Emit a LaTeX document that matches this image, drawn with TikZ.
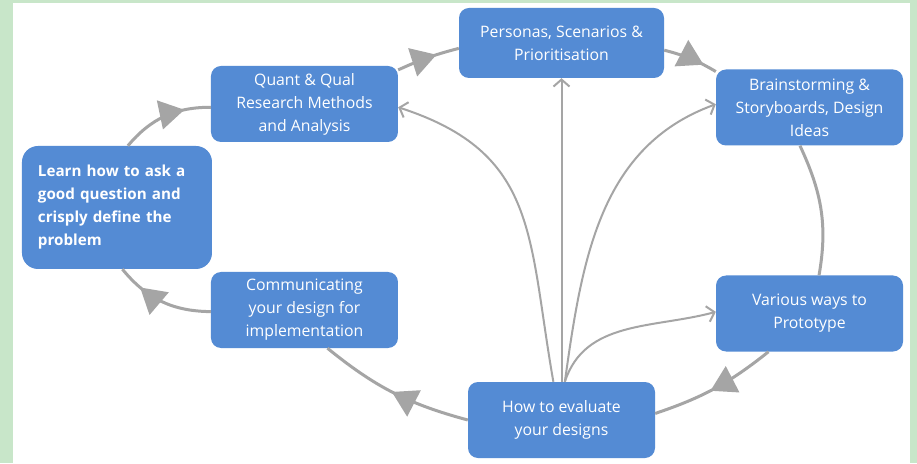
\documentclass[tikz,border=0pt]{standalone}
\usepackage{fontspec}
\setmainfont{Open Sans}
\usepackage{tikz}
\usetikzlibrary{arrows.meta}
\usetikzlibrary{decorations.markings}
\definecolor{boxblue}{RGB}{84,139,212}
\definecolor{linegray}{RGB}{165,165,165}
\definecolor{pagegreen}{RGB}{200,230,201}
\tikzstyle{process} = [rectangle, rounded corners=10pt, minimum width=187pt, minimum height=76pt, text centered, align=center, fill=boxblue, text=white, font=\fontsize{15.8}{23}\selectfont]
\tikzstyle{bigprocess} = [process, rounded corners=16pt, minimum width=190pt, minimum height=123pt, text width=158pt, inner xsep=16pt, align=left, font=\bfseries\fontsize{15.2}{23}\selectfont]
\tikzstyle{cycarrow} = [line width=3pt, draw=linegray, postaction=decorate, decoration={markings, mark=at position #1 with {\arrow[linegray]{Triangle[length=25pt,width=29pt]}}}]
\tikzstyle{cycline} = [line width=3pt, draw=linegray]
\tikzstyle{farrow} = [line width=2pt, draw=linegray, -{Straight Barb[length=7pt,width=16pt]}]

\begin{document}
\begin{tikzpicture}[node distance=206pt, x=1pt, y=1pt]
                        % page
                        \fill[pagegreen] (-561.5,-43) rectangle (355.5,420);
                        \fill[white] (-548.5,-43) rectangle (348.5,417);

                        \node (6) [process] {How to evaluate\\your designs};
                        \node (3) [process, above of=6, yshift=171pt, minimum width=205pt, minimum height=70pt] {Personas, Scenarios \&\\Prioritisation};
                        \node (2) [process, left of=3, xshift=-51pt, yshift=-61pt] {Quant \& Qual\\Research Methods\\and Analysis};
                        \node (4) [process, right of=3, xshift=42pt, yshift=-64.5pt] {Brainstorming \&\\Storyboards, Design\\Ideas};
                        \node (5) [process, below of=4] {Various ways to\\Prototype};
                        \node (7) [process, below of=2] {Communicating\\your design for\\implementation};
                        \node (1) [bigprocess, left of=2, xshift=18.5pt, yshift=-103.5pt] {Learn how to ask a\\good question and\\crisply define the\\problem};

                        % main loop
                        \draw [cycarrow=0.72] (1.80) to[bend left=25] (2.182);
                        \draw [cycarrow=0.64] (2.20) to[bend left=5] (3.183);
                        \draw [cycarrow=0.75] (3.-4) to[bend left=8] (4.159);
                        \draw [cycline] (4.256) to[out=-65, in=80] (5.76);
                        \draw [cycarrow=0.54] (5.223) to[bend left=10] (6.4);
                        \draw [cycarrow=0.51] (6.west) to[bend left=12] (7.-59);
                        \draw [cycarrow=0.75] (7.181) to[bend left=25] (1.275);

                        % evaluation feeds back into the other steps
                        \draw [farrow] (6.102) to[out=100, in=-18, looseness=1.2] (2.-2);
                        \draw [farrow] (6.north) -- (3.south);
                        \draw [farrow] (6.85) to[out=82, in=200] (4.178);
                        \draw [farrow] (6.85) to[out=72, in=195] (5.179);
                    \end{tikzpicture}
\end{document}
